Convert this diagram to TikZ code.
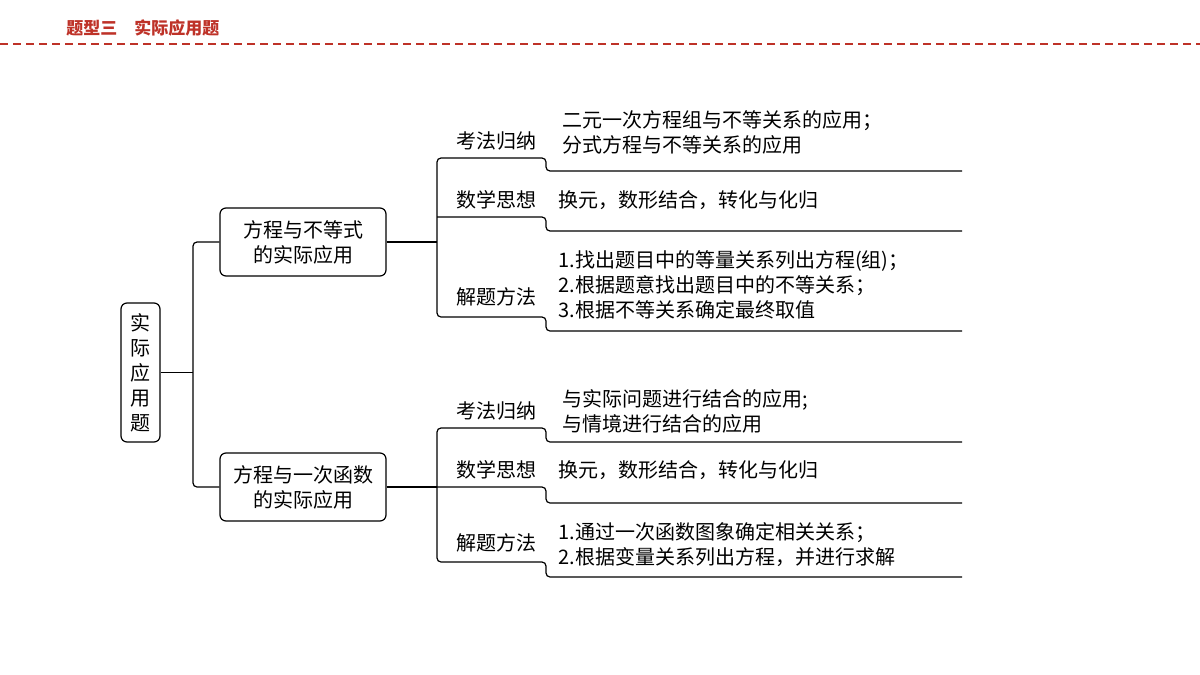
\documentclass[tikz,border=0pt]{standalone}
\usepackage{fontspec}
\setmainfont{Liberation Serif}
\newfontfamily\cjk{Noto Sans CJK SC}
\definecolor{hdr}{RGB}{190,50,40}
\begin{document}
\begin{tikzpicture}[x=0.5pt,y=-0.5pt,
  box/.style={draw,rounded corners=3pt,line width=0.6pt,inner sep=0pt,align=center,font=\cjk\fontsize{10}{12.5}\selectfont},
  lbl/.style={font=\cjk\fontsize{10}{12}\selectfont,inner sep=0pt},
  txt/.style={font=\cjk\fontsize{10}{12.5}\selectfont,anchor=west,align=left,inner sep=0pt},
  ln/.style={line width=0.6pt,rounded corners=2pt}]
\useasboundingbox (0,0) rectangle (1200,675);
\node[font=\cjk\bfseries\fontsize{8.5}{10}\selectfont,text=hdr,anchor=west,inner sep=0pt] (hd) at (66,28) {题型三\hspace{1em}实际应用题};
\draw[hdr,dashed,line width=0.8pt,dash pattern=on 4pt off 2.5pt] (0,44) -- (1200,44);
% root
\node[box,minimum width=19.5pt,minimum height=69.5pt] (root) at (140.5,372.5) {实\\际\\应\\用\\题};
\node[box,minimum width=83pt,minimum height=34pt] (b1) at (303,242) {方程与不等式\\的实际应用};
\node[box,minimum width=83pt,minimum height=34pt] (b2) at (303,487) {方程与一次函数\\的实际应用};
\coordinate (s1) at (193,372.5);
\draw[ln] (root.east) -- (s1);
\draw[ln] (b1.west) -| (s1) |- (b2.west);
% group 1
\coordinate (g1) at (437,242);
\draw[line width=0.6pt] (b1.east) -- (g1);
\draw[ln] (962,171) -- (546,171) -- (546,158) -- (437,158) -- (437,317) -- (546,317) -- (546,331) -- (962,331);
\draw[ln] (437,217) -- (546,217) -- (546,231) -- (962,231);
\node[lbl] (a1) at (496,141) {考法归纳};
\node[lbl] (a2) at (496,200) {数学思想};
\node[lbl] (a3) at (496,297) {解题方法};
\node[txt] (t1) at (562,132) {二元一次方程组与不等关系的应用；\\分式方程与不等关系的应用};
\node[txt] (t2) at (558,200) {换元，数形结合，转化与化归};
\node[txt] (t3) at (558,284.5) {1.找出题目中的等量关系列出方程(组)；\\2.根据题意找出题目中的不等关系；\\3.根据不等关系确定最终取值};
% group 2
\coordinate (g2) at (437,487);
\draw[line width=0.6pt] (b2.east) -- (g2);
\draw[ln] (962,442) -- (546,442) -- (546,428) -- (437,428) -- (437,562) -- (546,562) -- (546,577) -- (962,577);
\draw[ln] (g2) -- (546,487) -- (546,503) -- (962,503);
\node[lbl] (c1) at (496,411) {考法归纳};
\node[lbl] (c2) at (496,470) {数学思想};
\node[lbl] (c3) at (496,543) {解题方法};
\node[txt] (u1) at (562,411.5) {与实际问题进行结合的应用;\\与情境进行结合的应用};
\node[txt] (u2) at (558,470) {换元，数形结合，转化与化归};
\node[txt] (u3) at (558,544.5) {1.通过一次函数图象确定相关关系；\\2.根据变量关系列出方程，并进行求解};
\end{tikzpicture}
\end{document}
